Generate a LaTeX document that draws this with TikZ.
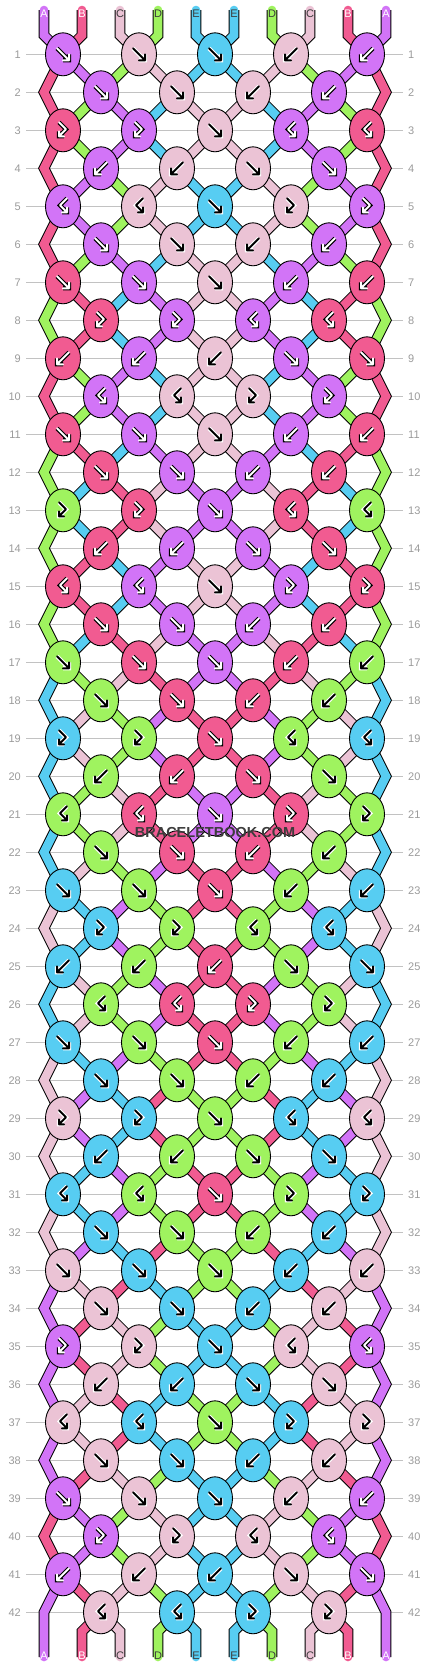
\documentclass[tikz,border=0pt]{standalone}
\usepackage{fontspec}
\setmainfont{Liberation Sans}
\usetikzlibrary{shapes.geometric}

\definecolor{colA}{HTML}{D274F7}
\definecolor{colB}{HTML}{F15B91}
\definecolor{colC}{HTML}{EBC3D5}
\definecolor{colD}{HTML}{9FF35F}
\definecolor{colE}{HTML}{57CDF2}
\definecolor{numgray}{HTML}{9A9A9A}
\definecolor{linegray}{HTML}{C2C2C2}
\definecolor{markgray}{HTML}{3C3C3C}

\pgfdeclarelayer{grid}
\pgfdeclarelayer{strands}
\pgfsetlayers{grid,strands,main}

\tikzset{
  knot/.style={ellipse, draw=black, line width=0.9pt, minimum width=35pt, minimum height=43pt, inner sep=0pt},
  thread/.style={draw=col#1, line width=8.6pt, preaction={draw=black, line width=10.6pt}},
  glyph white/.style={glyph/.style={draw=white, line width=2pt, line cap=round, line join=round, preaction={draw=black, line width=4.2pt}}},
  glyph black/.style={glyph/.style={draw=black, line width=2pt, line cap=round, line join=round, preaction={draw=white, line width=4.2pt}}},
  inkA/.style={glyph white}, inkB/.style={glyph white},
  inkC/.style={glyph black}, inkD/.style={glyph black}, inkE/.style={glyph black},
  pics/arrow f/.style={code={\draw[glyph] (-6,-6) -- (6,6) (0,6) -- (6,6) -- (6,0);}},
  pics/arrow b/.style={code={\draw[glyph] (6,-6) -- (-6,6) (0,6) -- (-6,6) -- (-6,0);}},
  pics/arrow fb/.style={code={\draw[glyph] (-4,-8) -- (3,-1) -- (-4,6) (1,6) -- (-4,6) -- (-4,1);}},
  pics/arrow bf/.style={code={\draw[glyph] (4,-8) -- (-3,-1) -- (4,6) (-1,6) -- (4,6) -- (4,1);}},
  gridline/.style={draw=linegray, line width=0.9pt},
  rowlabel/.style={text=numgray, font=\fontsize{11}{13}\selectfont, inner sep=0pt},
  strandlabel/.style={font=\fontsize{11}{13}\selectfont, inner sep=0pt},
  lblA/.style={text=white}, lblB/.style={text=white},
  lblC/.style={text=markgray}, lblD/.style={text=markgray}, lblE/.style={text=markgray},
}

\begin{document}
\begin{tikzpicture}[x=1pt, y=-1pt]
\useasboundingbox (0,0) rectangle (430,1668);

% Knots
\foreach \r/\row in {
  1/{A/f,C/f,E/f,C/b,A/b}, 2/{A/f,C/f,C/b,A/b},
  3/{B/fb,A/fb,C/f,A/bf,B/bf}, 4/{A/b,C/b,C/f,A/f},
  5/{A/bf,C/bf,E/f,C/fb,A/fb}, 6/{A/f,C/f,C/b,A/b},
  7/{B/f,A/f,C/f,A/b,B/b}, 8/{B/fb,A/fb,A/bf,B/bf},
  9/{B/b,A/b,C/b,A/f,B/f}, 10/{A/bf,C/bf,C/fb,A/fb},
  11/{B/f,A/f,C/f,A/b,B/b}, 12/{B/f,A/f,A/b,B/b},
  13/{D/fb,B/fb,A/f,B/bf,D/bf}, 14/{B/b,A/b,A/f,B/f},
  15/{B/bf,A/bf,C/f,A/fb,B/fb}, 16/{B/f,A/f,A/b,B/b},
  17/{D/f,B/f,A/f,B/b,D/b}, 18/{D/f,B/f,B/b,D/b},
  19/{E/fb,D/fb,B/f,D/bf,E/bf}, 20/{D/b,B/b,B/f,D/f},
  21/{D/bf,B/bf,A/f,B/fb,D/fb}, 22/{D/f,B/f,B/b,D/b},
  23/{E/f,D/f,B/f,D/b,E/b}, 24/{E/fb,D/fb,D/bf,E/bf},
  25/{E/b,D/b,B/b,D/f,E/f}, 26/{D/bf,B/bf,B/fb,D/fb},
  27/{E/f,D/f,B/f,D/b,E/b}, 28/{E/f,D/f,D/b,E/b},
  29/{C/fb,E/fb,D/f,E/bf,C/bf}, 30/{E/b,D/b,D/f,E/f},
  31/{E/bf,D/bf,B/f,D/fb,E/fb}, 32/{E/f,D/f,D/b,E/b},
  33/{C/f,E/f,D/f,E/b,C/b}, 34/{C/f,E/f,E/b,C/b},
  35/{A/fb,C/fb,E/f,C/bf,A/bf}, 36/{C/b,E/b,E/f,C/f},
  37/{C/bf,E/bf,D/f,E/fb,C/fb}, 38/{C/f,E/f,E/b,C/b},
  39/{A/f,C/f,E/f,C/b,A/b}, 40/{A/fb,C/fb,C/bf,A/bf},
  41/{A/b,C/b,E/b,C/f,A/f}, 42/{C/bf,E/bf,E/fb,C/fb}} {
  \pgfmathsetmacro\yy{16.3+38*\r}
  \foreach \c/\t [count=\i from 0] in \row {
    \pgfmathtruncatemacro\k{2*\i+1-mod(\r,2)}
    \pgfmathtruncatemacro\kk{\k+1}
    \pgfmathsetmacro\xx{63+38*\k}
    \node[knot, fill=col\c] (k-\r-\k) at (\xx,\yy) {};
    \pic[ink\c] at (k-\r-\k) {arrow \t};
    \coordinate (n-\r-\k) at (k-\r-\k.center);
    \coordinate (n-\r-\kk) at (k-\r-\k.center);
  }
}

% Edge, top and bottom points
\foreach \r in {2,4,...,42} {
  \pgfmathsetmacro\yy{16.3+38*\r}
  \coordinate (n-\r-0) at (44,\yy);
  \coordinate (n-\r-9) at (386,\yy);
}
\foreach \p in {0,...,9} {
  \pgfmathsetmacro\xx{44+38*\p}
  \coordinate (top-\p) at (\xx,10);
  \coordinate (n-0-\p) at (\xx,35.3);
  \coordinate (n-43-\p) at (\xx,1631.3);
  \coordinate (bot-\p) at (\xx,1657);
}

% Threads
\begin{pgfonlayer}{strands}
\foreach \r/\s in {
  0/{A,B,C,D,E,E,D,C,B,A}, 1/{B,A,D,C,E,E,C,D,A,B},
  2/{B,D,A,E,C,C,E,A,D,B}, 3/{B,D,A,E,C,C,E,A,D,B},
  4/{B,A,D,C,E,E,C,D,A,B}, 5/{B,A,D,C,E,E,C,D,A,B},
  6/{B,D,A,E,C,C,E,A,D,B}, 7/{D,B,E,A,C,C,A,E,B,D},
  8/{D,B,E,A,C,C,A,E,B,D}, 9/{B,D,A,E,C,C,E,A,D,B},
  10/{B,D,A,E,C,C,E,A,D,B}, 11/{D,B,E,A,C,C,A,E,B,D},
  12/{D,E,B,C,A,A,C,B,E,D}, 13/{D,E,B,C,A,A,C,B,E,D},
  14/{D,B,E,A,C,C,A,E,B,D}, 15/{D,B,E,A,C,C,A,E,B,D},
  16/{D,E,B,C,A,A,C,B,E,D}, 17/{E,D,C,B,A,A,B,C,D,E},
  18/{E,C,D,A,B,B,A,D,C,E}, 19/{E,C,D,A,B,B,A,D,C,E},
  20/{E,D,C,B,A,A,B,C,D,E}, 21/{E,D,C,B,A,A,B,C,D,E},
  22/{E,C,D,A,B,B,A,D,C,E}, 23/{C,E,A,D,B,B,D,A,E,C},
  24/{C,E,A,D,B,B,D,A,E,C}, 25/{E,C,D,A,B,B,A,D,C,E},
  26/{E,C,D,A,B,B,A,D,C,E}, 27/{C,E,A,D,B,B,D,A,E,C},
  28/{C,A,E,B,D,D,B,E,A,C}, 29/{C,A,E,B,D,D,B,E,A,C},
  30/{C,E,A,D,B,B,D,A,E,C}, 31/{C,E,A,D,B,B,D,A,E,C},
  32/{C,A,E,B,D,D,B,E,A,C}, 33/{A,C,B,E,D,D,E,B,C,A},
  34/{A,B,C,D,E,E,D,C,B,A}, 35/{A,B,C,D,E,E,D,C,B,A},
  36/{A,C,B,E,D,D,E,B,C,A}, 37/{A,C,B,E,D,D,E,B,C,A},
  38/{A,B,C,D,E,E,D,C,B,A}, 39/{B,A,D,C,E,E,C,D,A,B},
  40/{B,A,D,C,E,E,C,D,A,B}, 41/{A,B,C,D,E,E,D,C,B,A},
  42/{A,B,C,D,E,E,D,C,B,A}} {
  \pgfmathtruncatemacro\rn{\r+1}
  \pgfmathtruncatemacro\rp{\r-1}
  \pgfmathtruncatemacro\odd{mod(\r,2)}
  \foreach \c [count=\p from 0] in \s {
    \pgfmathtruncatemacro\side{(\p==0)||(\p==9)}
    \ifnum\r=0
      \draw[thread=\c, line cap=round] (top-\p) -- (n-0-\p) -- (n-1-\p);
    \else\ifnum\r=42
      \ifnum\side=1
        \draw[thread=\c, line cap=round] (n-41-\p) -- (n-42-\p) -- (n-43-\p) -- (bot-\p);
      \else
        \draw[thread=\c, line cap=round] (n-42-\p) -- (n-43-\p) -- (bot-\p);
      \fi
    \else
      \ifnum\side=0
        \draw[thread=\c] (n-\r-\p) -- (n-\rn-\p);
      \else\ifnum\odd=0
        \draw[thread=\c] (n-\rp-\p) -- (n-\r-\p) -- (n-\rn-\p);
      \fi\fi
    \fi\fi
  }
}
\end{pgfonlayer}

% Row numbers and guide lines
\begin{pgfonlayer}{grid}
\foreach \r in {1,...,42} {
  \pgfmathsetmacro\yy{16.3+38*\r}
  \node[rowlabel, anchor=east] (l-\r) at (21,\yy) {\r};
  \node[rowlabel, anchor=west] (r-\r) at (408,\yy) {\r};
  \draw[gridline] ([xshift=5pt]l-\r.east) -- ([xshift=-5pt]r-\r.west);
}
\end{pgfonlayer}

% Thread letters
\foreach \l [count=\q from 0] in {A,B,C,D,E,E,D,C,B,A} {
  \pgfmathsetmacro\xx{44+38*\q}
  \node[strandlabel, lbl\l] (lt-\q) at (\xx,13.5) {\l};
  \node[strandlabel, lbl\l] (lb-\q) at (\xx,1655.5) {\l};
}

\node[font=\bfseries\fontsize{14.5}{16}\selectfont, text=markgray, inner sep=0pt] (mark) at (215,832) {BRACELETBOOK.COM};
\end{tikzpicture}
\end{document}
